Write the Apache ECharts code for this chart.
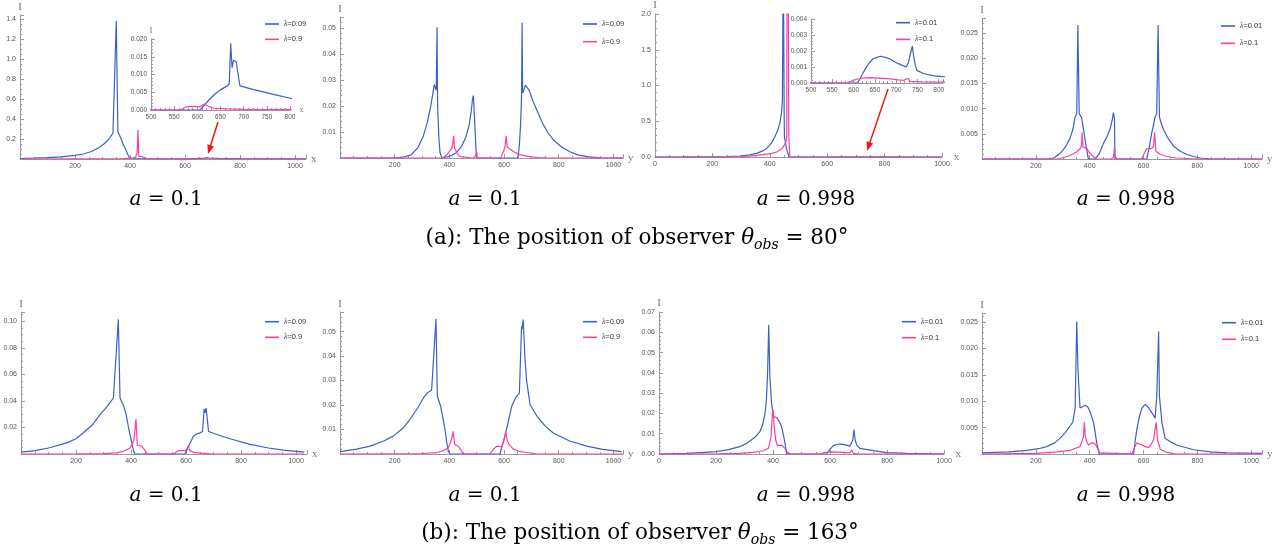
<!DOCTYPE html>
<html>
<head>
<meta charset="utf-8">
<script src="https://cdn.jsdelivr.net/npm/echarts@6/dist/echarts.min.js"></script>
<style>
  html,body{margin:0;padding:0;background:#fff;}
  #chart{width:1284px;height:548px;}
</style>
</head>
<body>
<div id="chart"></div>
<script>
// ---- data: [x, I] pairs ----
// (a) theta_obs = 80
var p1Blue=[[0,0.005],[50,0.008],[100,0.013],[150,0.022],[200,0.036],[230,0.05],[260,0.075],[285,0.11],[305,0.15],[320,0.19],[330,0.225],[338,0.26],[343,0.28],[350,1.38],[356,0.27],[365,0.22],[375,0.15],[385,0.09],[393,0.04],[400,0.005],[404,0],[606,0],[616,0.0015],[627,0.0031],[638,0.0045],[649,0.0056],[658,0.0063],[665,0.0068],[669,0.0075],[672,0.0188],[675,0.0119],[678,0.014],[680,0.0145],[684,0.0136],[688,0.01],[692,0.0068],[720,0.0058],[764,0.0044],[801,0.0033],[850,0.0025],[900,0.0019],[960,0.0014],[1040,0.001]];
var p1Pink=[[0,0],[200,0.0005],[300,0.0012],[350,0.0025],[380,0.0045],[400,0.008],[412,0.012],[420,0.018],[426,0.06],[429,0.29],[432,0.03],[445,0.021],[455,0.012],[463,0.005],[472,0],[563,0],[570,0.0005],[577,0.0009],[592,0.001],[606,0.0009],[615,0.0017],[621,0.0012],[628,0.0008],[635,0.0005],[664,0.0003],[700,0.0002],[800,0.0001],[1040,0]];
var p2Blue=[[0,0],[197,0],[230,0.0003],[260,0.0012],[285,0.004],[305,0.0085],[320,0.014],[332,0.02],[340,0.025],[345,0.0283],[348,0.0287],[352,0.026],[355,0.0503],[357,0.02],[362,0.007],[366,0.002],[373,0],[400,0.0006],[425,0.002],[445,0.0045],[460,0.008],[472,0.0125],[480,0.018],[485,0.023],[488,0.024],[492,0.015],[499,0],[651,0],[656,0.005],[660,0.012],[663,0.02],[664,0.025],[666,0.052],[668,0.025],[672,0.026],[678,0.028],[684,0.0283],[692,0.026],[705,0.022],[721,0.0182],[740,0.0135],[760,0.0098],[782,0.0068],[810,0.0042],[843,0.0023],[870,0.0012],[904,0.0005],[950,0.0001],[1035,0]];
var p2Pink=[[0,0],[373,0],[382,0.0005],[392,0.0015],[403,0.0028],[410,0.004],[416,0.0085],[418,0.004],[424,0.0028],[430,0.0015],[438,0.0005],[445,0],[487,0],[496,0.0008],[500,0.0023],[502,0],[587,0],[596,0.002],[603,0.004],[608,0.0085],[611,0.0045],[620,0.0035],[636,0.0024],[652,0.0015],[672,0.0009],[700,0.0004],[721,0.0002],[760,0],[1035,0]];
var p3Blue=[[0,0],[100,0.0005],[200,0.002],[250,0.005],[296,0.014],[330,0.03],[354,0.05],[375,0.085],[389,0.12],[405,0.19],[418,0.285],[428,0.38],[435,0.47],[441,0.62],[444,0.8],[447,3],[450,0.66],[451,0.28],[458,0.12],[467,0],[608,0],[614,0.0002],[620,0.00052],[628,0.0009],[635,0.0012],[645,0.0015],[655,0.0016],[663,0.00167],[675,0.0016],[686,0.0015],[698,0.0013],[710,0.00115],[724,0.00101],[729,0.0013],[735,0.002],[738,0.0023],[741,0.0017],[745,0.0011],[749,0.00079],[765,0.00058],[790,0.00045],[810,0.0004],[900,0.0002],[1000,0.0001]];
var p3Pink=[[0,0],[200,0.001],[300,0.005],[350,0.02],[389,0.04],[410,0.055],[424,0.07],[437,0.1],[447,0.14],[453,0.19],[457,0.22],[459,0.3],[462,6],[466,0.3],[470,0],[584,0],[594,0.0001],[604,0.0002],[614,0.00028],[624,0.00032],[640,0.00033],[660,0.0003],[686,0.00026],[705,0.0002],[718,0.00017],[728,0.00028],[733,0.0001],[757,0.00007],[810,0.00005],[1000,0]];
var p4Blue=[[0,0],[253,0],[270,0.0003],[290,0.0011],[310,0.0024],[327,0.0041],[338,0.006],[346,0.0084],[352,0.009],[356,0.0266],[361,0.009],[370,0.0082],[377,0.006],[383,0.0038],[390,0.0015],[395,0],[420,0],[435,0.001],[451,0.0031],[465,0.0045],[476,0.006],[484,0.0078],[488,0.0092],[492,0.008],[494,0],[612,0],[620,0.002],[631,0.0053],[638,0.007],[643,0.0084],[649,0.009],[654,0.0266],[659,0.0084],[666,0.007],[674,0.0059],[690,0.0042],[711,0.0026],[735,0.0016],[761,0.0009],[785,0.0005],[811,0.0002],[850,0],[1040,0]];
var p4Pink=[[0,0],[280,0],[305,0.0003],[327,0.0007],[348,0.0013],[364,0.002],[370,0.0028],[372,0.0053],[375,0.0023],[382,0.0022],[389,0.0021],[398,0.0013],[408,0.0007],[426,0],[480,0],[488,0.0003],[492,0.0021],[494,0],[594,0],[603,0.0012],[612,0.002],[631,0.0021],[637,0.0025],[641,0.0053],[646,0.0015],[660,0.001],[687,0.0005],[720,0.0002],[761,0.0001],[800,0],[1040,0]];
// (b) theta_obs = 163
var p5Blue=[[0,0.0014],[50,0.0025],[100,0.0045],[166,0.0084],[200,0.0115],[227,0.016],[260,0.022],[287,0.0297],[310,0.035],[336,0.0422],[342,0.0435],[354,0.1016],[360,0.0422],[372,0.037],[382,0.03],[390,0.021],[400,0.011],[408,0.0034],[414,0],[596,0],[610,0.006],[627,0.0134],[640,0.0152],[651,0.0159],[660,0.017],[666,0.0339],[669,0.031],[673,0.0347],[678,0.025],[682,0.017],[712,0.0147],[760,0.0115],[833,0.0072],[900,0.0045],[954,0.0029],[1030,0.0014]];
var p5Pink=[[0,0],[200,0.0001],[300,0.0003],[348,0.0008],[375,0.0022],[396,0.0044],[405,0.0075],[411,0.011],[418,0.0264],[423,0.0064],[431,0.0062],[439,0.0059],[445,0.0045],[450,0.003],[457,0.0004],[465,0],[554,0],[562,0.0012],[570,0.0025],[596,0.0025],[604,0.004],[608,0.0064],[614,0.0024],[630,0.0012],[651,0.0006],[700,0],[1030,0]];
var p6Blue=[[0,0.001],[60,0.002],[110,0.0032],[160,0.0053],[195,0.0073],[230,0.0105],[256,0.0141],[285,0.019],[305,0.0229],[320,0.025],[335,0.026],[341,0.0263],[351,0.0552],[356,0.0236],[368,0.0195],[376,0.015],[384,0.01],[390,0.005],[396,0.0012],[402,0],[585,0],[592,0.003],[603,0.0073],[615,0.013],[628,0.0195],[642,0.023],[656,0.0249],[658,0.0252],[664,0.0522],[666,0.051],[670,0.0549],[676,0.04],[682,0.0304],[695,0.0202],[720,0.0155],[750,0.0115],[780,0.0086],[840,0.0053],[902,0.0032],[960,0.0019],[1030,0.001]];
var p6Pink=[[0,0],[200,0.0001],[300,0.0002],[353,0.0006],[380,0.0014],[396,0.0025],[408,0.0059],[414,0.0093],[419,0.004],[426,0.0036],[433,0.0032],[440,0.002],[445,0.0012],[451,0],[548,0],[560,0.0018],[573,0.0032],[582,0.0031],[591,0.0029],[601,0.0059],[606,0.0093],[612,0.0053],[620,0.0036],[634,0.002],[655,0.0011],[683,0.0006],[720,0],[1035,0]];
var p7Blue=[[0,0],[100,0.0003],[191,0.001],[240,0.002],[284,0.0036],[310,0.0055],[331,0.0076],[345,0.0095],[354,0.011],[364,0.0145],[372,0.02],[377,0.027],[381,0.0398],[385,0.0636],[389,0.038],[395,0.025],[401,0.0184],[407,0.0185],[413,0.018],[422,0.016],[430,0.0135],[437,0.009],[442,0.0053],[448,0],[588,0],[598,0.002],[612,0.0041],[625,0.0048],[635,0.0049],[650,0.0046],[670,0.0039],[680,0.0069],[684,0.012],[688,0.0069],[695,0.004],[705,0.0028],[752,0.0017],[799,0.0007],[869,0.0003],[1000,0]];
var p7Pink=[[0,0],[200,0.0001],[284,0.0003],[330,0.0008],[366,0.0016],[384,0.0028],[393,0.0085],[399,0.022],[401,0.021],[404,0.0136],[410,0.0065],[416,0.0041],[423,0.0043],[430,0.0044],[436,0.0038],[442,0.0028],[448,0.0012],[453,0.0003],[460,0],[565,0],[580,0.0007],[600,0.001],[630,0.0009],[670,0.0006],[677,0.002],[682,0.0003],[700,0],[1000,0]];
var p8Blue=[[0,0.0002],[100,0.0004],[166,0.0007],[210,0.001],[240,0.0014],[270,0.0021],[290,0.003],[310,0.0041],[327,0.0053],[337,0.006],[346,0.0087],[352,0.0251],[356,0.0166],[364,0.0087],[374,0.009],[383,0.0092],[392,0.009],[400,0.0082],[414,0.006],[420,0.0042],[426,0.0021],[436,0],[563,0],[569,0.0025],[575,0.0046],[585,0.0072],[594,0.0087],[606,0.0094],[618,0.0088],[631,0.0078],[643,0.0068],[649,0.0109],[656,0.0232],[659,0.011],[668,0.006],[680,0.003],[700,0.0023],[723,0.0017],[786,0.0008],[850,0.0004],[910,0.0002],[1040,0.0001]];
var p8Pink=[[0,0],[200,0.0001],[280,0.0004],[327,0.0007],[364,0.0014],[377,0.0033],[380,0.006],[384,0.0033],[390,0.0022],[396,0.0017],[404,0.002],[412,0.0021],[420,0.0019],[426,0.0017],[432,0.0008],[439,0.0002],[445,0],[557,0],[566,0.0012],[575,0.0021],[584,0.0019],[594,0.0017],[606,0.0014],[618,0.0012],[628,0.0018],[637,0.0027],[647,0.006],[652,0.0027],[662,0.0009],[686,0.0003],[720,0],[1040,0]];

var namesA=['λ=0.09','λ=0.9'];
var namesB=['λ=0.01','λ=0.1'];
var captions=['a = 0.1','a = 0.1','a = 0.998','a = 0.998'];
var figTitles=['(a): The position of observer ','(b): The position of observer '];
var figAngles=['80°','163°'];

var BLUE='#3f5fc8', PINK='#ff3ea5', AXC='#9a9a9a', LBC='#555';

// layout of the panels (pixels)
var panels=[
  {g:[20,15,286,144],  xMax:1040,yMax:1.44,  yInt:0.2,  ySplit:4,dec:1,zero:false,xn:'x',b:p1Blue,p:p1Pink,n:namesA,lg:[265,24,15.3]},
  {g:[340,17,283,141], xMax:1035,yMax:0.0542,yInt:0.01, ySplit:5,dec:2,zero:false,xn:'y',b:p2Blue,p:p2Pink,n:namesA,lg:[583,24,17.7]},
  {g:[655,14,287,143], xMax:1000,yMax:2.0,   yInt:0.5,  ySplit:5,dec:1,zero:true, xn:'x',b:p3Blue,p:p3Pink,n:namesB,lg:[896,22.7,16.7]},
  {g:[982,18,280,141], xMax:1040,yMax:0.028, yInt:0.005,ySplit:5,dec:3,zero:false,xn:'y',b:p4Blue,p:p4Pink,n:namesB,lg:[1221,26,17.3]},
  {g:[21,312,286,142], xMax:1040,yMax:0.107, yInt:0.02, ySplit:4,dec:2,zero:false,xn:'x',b:p5Blue,p:p5Pink,n:namesA,lg:[265,321.7,15.6]},
  {g:[340,312,283,142],xMax:1035,yMax:0.058, yInt:0.01, ySplit:5,dec:2,zero:false,xn:'y',b:p6Blue,p:p6Pink,n:namesA,lg:[583,321.7,15.6]},
  {g:[659,312,285,142],xMax:1000,yMax:0.07,  yInt:0.01, ySplit:5,dec:2,zero:true, xn:'x',b:p7Blue,p:p7Pink,n:namesB,lg:[902,321.7,16]},
  {g:[982,313,280,141],xMax:1040,yMax:0.0267,yInt:0.005,ySplit:5,dec:3,zero:false,xn:'y',b:p8Blue,p:p8Pink,n:namesB,lg:[1222,322.7,16.6]}
];
var insets=[
  {g:[151,39,139,71],xMin:500,xMax:800,yMax:0.02, yInt:0.005,ySplit:5,b:p1Blue,p:p1Pink,names:true},
  {g:[811,19,132,64],xMin:500,xMax:810,yMax:0.004,yInt:0.001,ySplit:5,b:p3Blue,p:p3Pink,names:false}
];

function onStep(v,step){ var r=v/step; return Math.abs(r-Math.round(r))<1e-6; }

var grid=[],xAxis=[],yAxis=[],series=[],legend=[];
function addPanel(c,isInset){
  var k=grid.length;
  grid.push({left:c.g[0],top:c.g[1],width:c.g[2],height:c.g[3],containLabel:false,outerBoundsMode:'none',show:false});
  var fs=isInset?6.5:7;
  var xMin=c.xMin||0, xInt=isInset?50:200;
  xAxis.push({type:'value',gridIndex:k,min:xMin,max:c.xMax,interval:xInt,
    name:isInset?(c.names?'x':''):c.xn,nameLocation:'end',nameGap:5,
    nameTextStyle:{fontFamily:'Liberation Serif',fontSize:isInset?9:11,color:'#777',verticalAlign:'middle'},
    axisLine:{show:true,onZero:false,lineStyle:{color:AXC,width:1}},
    axisTick:{show:true,inside:true,length:4,lineStyle:{color:AXC}},
    minorTick:{show:true,splitNumber:isInset?5:4,length:2,lineStyle:{color:AXC}},
    splitLine:{show:false},
    axisLabel:{fontSize:fs,color:LBC,margin:4,fontFamily:'Liberation Sans',
      formatter:function(v){ if(!onStep(v,xInt)) return ''; if(v===0&&!(c.zero||isInset)) return ''; return String(Math.round(v)); }}
  });
  yAxis.push({type:'value',gridIndex:k,min:0,max:c.yMax,interval:c.yInt,
    name:isInset?(c.names?'I':''):'I',nameLocation:'end',nameGap:2,
    nameTextStyle:{fontFamily:'Liberation Serif',fontSize:isInset?9:11,color:'#777',align:'center',verticalAlign:'bottom'},
    axisLine:{show:true,onZero:false,lineStyle:{color:AXC,width:1}},
    axisTick:{show:true,inside:true,length:4,lineStyle:{color:AXC}},
    minorTick:{show:true,splitNumber:c.ySplit,length:2,lineStyle:{color:AXC}},
    splitLine:{show:false},
    axisLabel:{fontSize:fs,color:LBC,margin:4,fontFamily:'Liberation Sans',
      formatter:function(v){ if(!onStep(v,c.yInt)) return ''; if(v===0&&!(c.zero||isInset)) return ''; return v.toFixed(isInset?3:c.dec); }}
  });
  [[c.b,BLUE,0],[c.p,PINK,1]].forEach(function(s){
    series.push({type:'line',name:isInset?'':c.n[s[2]],xAxisIndex:k,yAxisIndex:k,data:s[0],
      symbol:'none',smooth:false,clip:true,silent:true,animation:false,
      lineStyle:{color:s[1],width:1.2},itemStyle:{color:s[1]},z:isInset?4:2});
  });
  if(!isInset){
    legend.push({data:c.n,orient:'vertical',left:c.lg[0],top:c.lg[1]-5,padding:0,
      itemGap:c.lg[2]-10,itemWidth:14,itemHeight:1.6,icon:'rect',selectedMode:false,
      formatter:function(n){ return '{i|λ}'+n.slice(1); },
      textStyle:{fontSize:7.5,lineHeight:10,color:'#333',fontFamily:'Liberation Sans',
        rich:{i:{fontStyle:'italic',fontSize:7.5,fontFamily:'Liberation Serif',color:'#333'}}}});
  }
}
panels.forEach(function(c){ addPanel(c,false); });
insets.forEach(function(c){ addPanel(c,true); });

function arrow(x1,y1,x2,y2){
  var dx=x2-x1,dy=y2-y1,L=Math.sqrt(dx*dx+dy*dy),ux=dx/L,uy=dy/L,h=9,w=3.5;
  var bx=x2-h*ux,by=y2-h*uy;
  return [
    {type:'line',shape:{x1:x1,y1:y1,x2:bx+ux*2,y2:by+uy*2},style:{stroke:'#f01818',lineWidth:1.5},z:20},
    {type:'polygon',shape:{points:[[x2,y2],[bx+w*uy,by-w*ux],[bx-w*uy,by+w*ux]]},style:{fill:'#f01818'},z:20}
  ];
}

var SERIF='DejaVu Serif';
function richFor(fs){
  return {
    r:{fontSize:fs,fontFamily:SERIF,lineHeight:28,color:'#000'},
    i:{fontSize:fs,fontFamily:SERIF,fontStyle:'italic',lineHeight:28,color:'#000'},
    s:{fontSize:Math.round(fs*0.65),fontFamily:SERIF,fontStyle:'italic',lineHeight:14,verticalAlign:'bottom',color:'#000'}
  };
}
function cap(x,y,txt,fs){
  return {type:'text',x:x,y:y,z:30,style:{text:txt,rich:richFor(fs),align:'center',verticalAlign:'middle',fontSize:fs,fontFamily:SERIF,fill:'#000'}};
}
var graphics=[];
var capX=[166,485,806,1126];
captions.forEach(function(t,i){
  var parts=t.split(' ');
  var txt='{i|'+parts[0]+'}{r| '+parts.slice(1).join(' ')+'}';
  graphics.push(cap(capX[i],200,txt,20));
  graphics.push(cap(capX[i],496,txt,20));
});
graphics.push(cap(637,238,'{r|'+figTitles[0]+'}{i|θ}{s|obs}{r| = '+figAngles[0]+'}',21.5));
graphics.push(cap(640,533,'{r|'+figTitles[1]+'}{i|θ}{s|obs}{r| = '+figAngles[1]+'}',21.5));
graphics=graphics.concat(arrow(218,122,208,154)).concat(arrow(888,89,867,151));

var chart=echarts.init(document.getElementById('chart'),null,{renderer:'canvas'});
chart.setOption({
  animation:false,
  backgroundColor:'#fff',
  grid:grid,xAxis:xAxis,yAxis:yAxis,series:series,legend:legend,
  graphic:graphics
});
</script>
</body>
</html>
